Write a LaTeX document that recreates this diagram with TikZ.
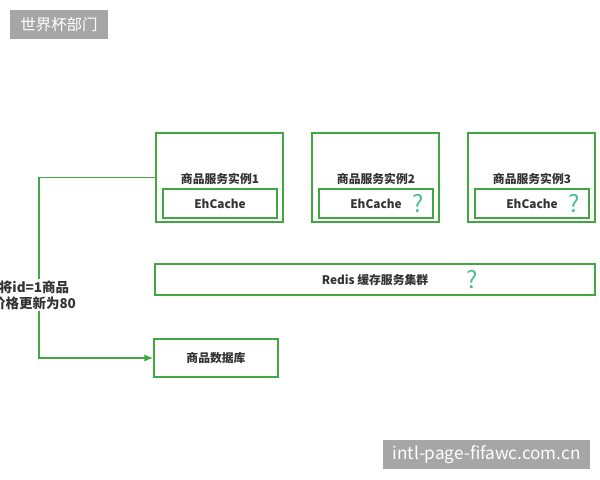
\documentclass[tikz,border=0pt]{standalone}
\usepackage{fontspec}
\setmainfont{Noto Sans CJK SC}
\usepackage{xcolor}
\usetikzlibrary{arrows.meta,positioning}

\definecolor{boxgreen}{RGB}{65,168,65}
\definecolor{qteal}{RGB}{72,190,150}
\definecolor{txtgray}{RGB}{51,51,51}
\definecolor{markgray}{RGB}{166,166,166}

\begin{document}
\begin{tikzpicture}[
    svc/.style={rectangle, draw=boxgreen, line width=1pt,
                minimum width=3.175cm, minimum height=2.225cm},
    cache/.style={rectangle, draw=boxgreen, line width=1pt,
                  minimum width=2.85cm, minimum height=0.725cm,
                  font=\fontsize{8.4}{10}\selectfont\bfseries, text=txtgray},
    store/.style={rectangle, draw=boxgreen, line width=1pt,
                  minimum height=0.85cm,
                  font=\fontsize{8.4}{10}\selectfont\bfseries, text=txtgray},
    title/.style={font=\fontsize{8.4}{10}\selectfont\bfseries, text=txtgray},
    ask/.style={font=\fontsize{17}{18}\selectfont, text=qteal},
    flow/.style={-{Latex[length=2.2mm,width=1.8mm]}, draw=boxgreen, line width=1.2pt},
    wmark/.style={fill=markgray, text=white, inner sep=0pt,
                  font=\fontsize{11}{12}\selectfont}
]
    \useasboundingbox (0,0) rectangle (15,-12);

    % Watermarks
    \node[wmark, minimum width=2.45cm, minimum height=0.725cm] (WM1) at (1.475,-0.6125) {世界杯部门};
    \node[wmark, minimum width=5.175cm, minimum height=0.725cm,
          font=\fontsize{12.2}{13}\selectfont] (WM2) at (12.1625,-11.3625) {intl-page-fifawc.com.cn};

    % Service instances
    \node[svc] (S1) at (5.4875,-4.4375) {};
    \node[svc] (S2) at (9.3875,-4.4375) {};
    \node[svc] (S3) at (13.2875,-4.4375) {};

    \node[title] (T1) at (5.5,-4.475) {商品服务实例1};
    \node[title] (T2) at (9.4,-4.475) {商品服务实例2};
    \node[title] (T3) at (13.3,-4.475) {商品服务实例3};

    % Local caches
    \node[cache] (C1) at (5.5,-5.0875) {EhCache};
    \node[cache] (C2) at (9.4,-5.0875) {EhCache};
    \node[cache] (C3) at (13.3,-5.0875) {EhCache};
    \node[ask] (Q2) at ([xshift=-0.4cm]C2.east) {?};
    \node[ask] (Q3) at ([xshift=-0.4cm]C3.east) {?};

    % Redis cluster
    \node[store, minimum width=11cm, minimum height=0.775cm] (R) at (9.375,-6.9875) {Redis 缓存服务集群};
    \node[ask] (QR) at (11.8,-7.0) {?};

    % Database
    \node[store, minimum width=3.1cm, minimum height=0.95cm] (DB) at (5.4,-8.95) {商品数据库};

    % Update path
    \draw[flow] (S1.west) -- ++(-2.9,0) |- (DB.west);
    \node[title, font=\fontsize{9.6}{11.5}\selectfont\bfseries, fill=white,
          align=center, inner sep=1pt] (U) at (0.85,-7.375) {将id=1商品\\价格更新为80};
\end{tikzpicture}
\end{document}
